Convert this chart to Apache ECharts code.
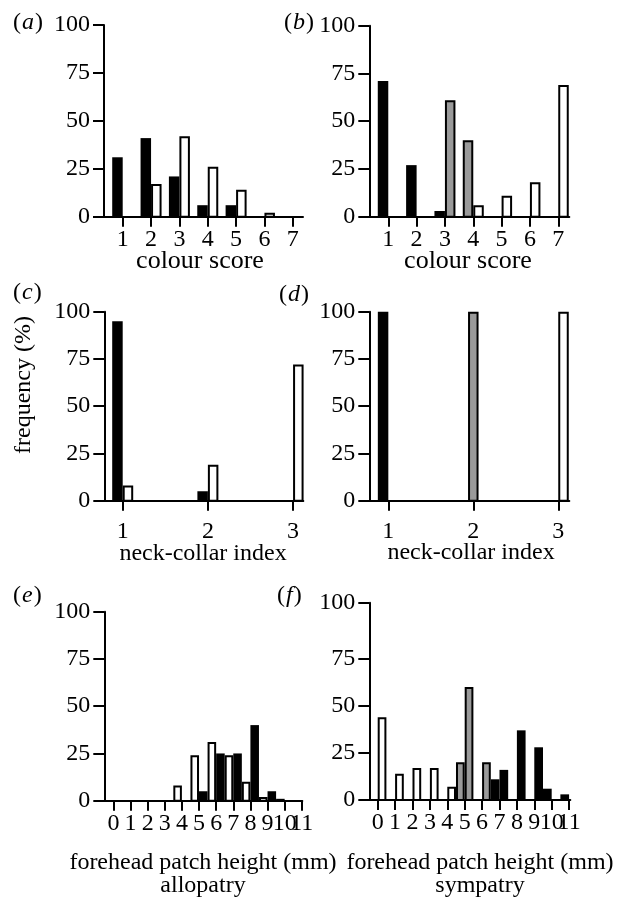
<!DOCTYPE html>
<html>
<head>
<meta charset="utf-8">
<script src="https://cdn.jsdelivr.net/npm/echarts@6/dist/echarts.min.js"></script>
<style>
  html, body { margin: 0; padding: 0; background: #fff; }
  #chart { width: 628px; height: 899px; }
</style>
</head>
<body>
<div id="chart"></div>
<script>
// ---------------- data ----------------
const scoreCats  = [1, 2, 3, 4, 5, 6, 7];
const collarCats = [1, 2, 3];
const patchTicks = [0, 1, 2, 3, 4, 5, 6, 7, 8, 9, 10, 11];
// half-mm bins (lower edges) for forehead patch height
const patchBins  = [0, 0.5, 1, 1.5, 2, 2.5, 3, 3.5, 4, 4.5, 5, 5.5, 6, 6.5, 7, 7.5, 8, 8.5, 9, 9.5, 10, 10.5];
const yTicks     = [0, 25, 50, 75, 100];

// (a) colour score, allopatry
const aBlack = [31, 41, 21, 6, 6, 0, 0];
const aWhite = [0, 17, 42, 26, 14, 2, 0];
// (b) colour score, sympatry
const bBlack = [71, 27, 3, 0, 0, 0, 0];
const bGrey  = [0, 0, 61, 40, 0, 0, 0];
const bWhite = [0, 0, 0, 6, 11, 18, 69];
// (c) neck-collar index, allopatry
const cBlack = [95, 5, 0];
const cWhite = [8, 19, 72];
// (d) neck-collar index, sympatry
const dBlack = [100, 0, 0];
const dGrey  = [0, 100, 0];
const dWhite = [0, 0, 100];
// (e) forehead patch height, allopatry
const eWhite = [0, 0, 0, 0, 0, 0, 0, 8, 0, 24, 0, 31, 0, 24, 0, 10, 0, 2, 0, 1, 0, 0];
const eBlack = [0, 0, 0, 0, 0, 0, 0, 0, 0, 0, 5, 0, 25, 0, 25, 0, 40, 0, 5, 0, 0, 0];
// (f) forehead patch height, sympatry
const fWhite = [44, 0, 14, 0, 17, 0, 17, 0, 7, 0, 0, 0, 0, 0, 0, 0, 0, 0, 0, 0, 0, 0];
const fGrey  = [0, 0, 0, 0, 0, 0, 0, 0, 0, 20, 60, 0, 20, 0, 0, 0, 0, 0, 0, 0, 0, 0];
const fBlack = [0, 0, 0, 0, 0, 0, 0, 0, 0, 0, 0, 0, 0, 11, 16, 0, 37, 0, 28, 6, 0, 3];

// ---------------- presentation ----------------
const FONT = 'Liberation Serif';
const BAR_PX = 10.5;   // bar width in px for score panels
const BIN_MM = 0.5;    // histogram bin width (mm)
const F_TOP = 104.8;   // panel (f) y-axis line runs a little above 100

const grids = [
  { left: 104,   top: 25,    width: 199, height: 191.7 },
  { left: 369.3, top: 25.7,  width: 200, height: 191 },
  { left: 104.3, top: 311.7, width: 199, height: 189 },
  { left: 369.3, top: 311.7, width: 200, height: 189 },
  { left: 104.3, top: 611.7, width: 198, height: 189 },
  { left: 369.3, top: 602.7, width: 201, height: 197.3 }
];
const xRanges = [[0.34, 7.36], [0.33, 7.39], [0.784, 3.12], [0.776, 3.13], [-0.53, 11.03], [-0.483, 11.07]];
const xTickSets = [scoreCats, scoreCats, collarCats, collarCats, patchTicks, patchTicks];
const xLabelMargin = [11, 11, 19, 19, 11, 11];
// panels whose crowded tick labels are drawn as graphic text (so none are dropped)
const manualLabelPanels = [4, 5];

const axisLineStyle = { color: '#000', width: 2 };
const labelStyle = { color: '#000', fontFamily: FONT, fontSize: 24 };

const xAxes = grids.map((g, i) => ({
  gridIndex: i, type: 'value', min: xRanges[i][0], max: xRanges[i][1],
  axisLine: { show: true, onZero: false, lineStyle: axisLineStyle },
  axisTick: { show: true, length: 10, lineStyle: axisLineStyle, customValues: xTickSets[i] },
  axisLabel: Object.assign({
    show: manualLabelPanels.indexOf(i) < 0,
    customValues: xTickSets[i], margin: xLabelMargin[i],
    showMinLabel: true, showMaxLabel: true, hideOverlap: false
  }, labelStyle),
  splitLine: { show: false }
}));
const yAxes = grids.map((g, i) => {
  const isF = i === 5;
  const vals = isF ? [0, 25, 50, 75, F_TOP] : yTicks;
  return {
    gridIndex: i, type: 'value', min: 0, max: isF ? F_TOP : 100,
    axisLine: { show: true, onZero: false, lineStyle: axisLineStyle },
    axisTick: { show: true, length: 11, lineStyle: axisLineStyle, customValues: vals },
    axisLabel: Object.assign({
      customValues: vals, margin: 14, showMinLabel: true, showMaxLabel: true, hideOverlap: false,
      formatter: v => (v > 100 ? '100' : String(Math.round(v)))
    }, labelStyle),
    splitLine: { show: false }
  };
});

function makeRender(kind, mode) {
  return function (params, api) {
    const x = api.value(0), v = api.value(1);
    if (!v) return null;
    const base = api.coord([x, 0]);
    let xl, xr;
    if (mode === 'bin') {
      xl = base[0];
      xr = api.coord([x + BIN_MM, 0])[0];
    } else {
      const s = api.value(2);
      xl = s < 0 ? base[0] - BAR_PX : (s > 0 ? base[0] : base[0] - BAR_PX / 2);
      xr = xl + BAR_PX;
    }
    const top = api.coord([x, v])[1];
    const y0 = base[1];
    if (kind === 'black') {
      return { type: 'rect', shape: { x: xl, y: top, width: xr - xl, height: y0 - top }, style: { fill: '#000' } };
    }
    const lw = 2;
    return {
      type: 'rect',
      shape: { x: xl + lw / 2, y: top + lw / 2, width: xr - xl - lw, height: y0 - top - lw / 2 },
      style: { fill: kind === 'grey' ? '#9a9a9a' : '#fff', stroke: '#000', lineWidth: lw }
    };
  };
}

function catSeries(gi, cats, vals, kind, sides) {
  return {
    type: 'custom', xAxisIndex: gi, yAxisIndex: gi, silent: true, z: 3,
    renderItem: makeRender(kind, 'cat'), encode: { x: 0, y: 1 },
    data: cats.map((c, i) => [c, vals[i], sides[i]])
  };
}
function binSeries(gi, vals, kind) {
  return {
    type: 'custom', xAxisIndex: gi, yAxisIndex: gi, silent: true, z: 3,
    renderItem: makeRender(kind, 'bin'), encode: { x: 0, y: 1 },
    data: patchBins.map((b, i) => [b, vals[i]])
  };
}
const leftSide  = arr => arr.map(() => -1);
const rightSide = arr => arr.map(() => 1);
// grey bar takes whichever slot is free next to the tick
const greySides = (blk, wht) => blk.map((b, i) => (b > 0 ? 1 : (wht[i] > 0 ? -1 : 0)));

const series = [
  catSeries(0, scoreCats, aBlack, 'black', leftSide(aBlack)),
  catSeries(0, scoreCats, aWhite, 'white', rightSide(aWhite)),
  catSeries(1, scoreCats, bBlack, 'black', leftSide(bBlack)),
  catSeries(1, scoreCats, bGrey,  'grey',  greySides(bBlack, bWhite)),
  catSeries(1, scoreCats, bWhite, 'white', rightSide(bWhite)),
  catSeries(2, collarCats, cBlack, 'black', leftSide(cBlack)),
  catSeries(2, collarCats, cWhite, 'white', rightSide(cWhite)),
  catSeries(3, collarCats, dBlack, 'black', leftSide(dBlack)),
  catSeries(3, collarCats, dGrey,  'grey',  greySides(dBlack, dWhite)),
  catSeries(3, collarCats, dWhite, 'white', rightSide(dWhite)),
  binSeries(4, eWhite, 'white'),
  binSeries(4, eBlack, 'black'),
  binSeries(5, fWhite, 'white'),
  binSeries(5, fGrey,  'grey'),
  binSeries(5, fBlack, 'black')
];

function txt(text, x, y, extra) {
  return {
    type: 'text', x: x, y: y, silent: true, z: 10,
    style: Object.assign({ text: text, fill: '#000', fontFamily: FONT, fontSize: 24, align: 'center', verticalAlign: 'middle' }, extra || {})
  };
}
function panelLabel(letter, x, y) {
  return {
    type: 'text', x: x, y: y, silent: true, z: 10,
    style: {
      text: '{p|(}{i|' + letter + '}{p|)}', align: 'left', verticalAlign: 'middle',
      rich: {
        p: { fontFamily: FONT, fontSize: 24, fill: '#000' },
        i: { fontFamily: FONT, fontSize: 24, fontStyle: 'italic', fill: '#000', padding: [0, 1, 0, 1] }
      }
    }
  };
}

const graphic = [
  panelLabel('a', 13, 23), panelLabel('b', 284, 23),
  panelLabel('c', 13, 293), panelLabel('d', 279, 295),
  panelLabel('e', 13, 596), panelLabel('f', 277, 596),
  txt('colour score', 200, 261, { fontSize: 26 }), txt('colour score', 468, 261, { fontSize: 26 }),
  txt('neck-collar index', 203, 554), txt('neck-collar index', 471, 553),
  txt('forehead patch height (mm)', 203, 863), txt('allopatry', 203, 886),
  txt('forehead patch height (mm)', 480, 863), txt('sympatry', 480, 886),
  Object.assign(txt('frequency (%)', 24, 385), { rotation: Math.PI / 2 })
];

const chart = echarts.init(document.getElementById('chart'), null, { renderer: 'canvas' });
chart.setOption({
  animation: false,
  backgroundColor: '#fff',
  grid: grids.map(g => Object.assign({ containLabel: false, outerBoundsMode: 'none' }, g)),
  xAxis: xAxes,
  yAxis: yAxes,
  series: series,
  graphic: graphic
});

// tick labels for the crowded histogram axes, positioned through the axis scale
const extraLabels = [];
manualLabelPanels.forEach(gi => {
  xTickSets[gi].forEach(t => {
    const p = chart.convertToPixel({ gridIndex: gi }, [t, 0]);
    extraLabels.push(txt(String(t), p[0], p[1] + xLabelMargin[gi], { verticalAlign: 'top' }));
  });
});
chart.setOption({ graphic: graphic.concat(extraLabels) });
</script>
</body>
</html>
